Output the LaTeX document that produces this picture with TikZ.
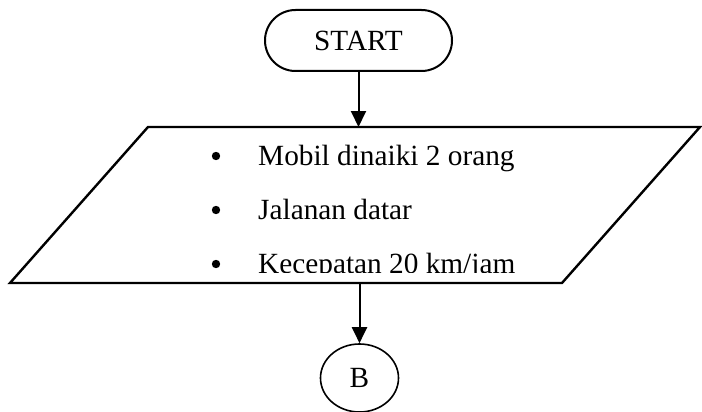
\documentclass[tikz,border=0pt]{standalone}
\usepackage{fontspec}
\setmainfont{Liberation Serif}
\usetikzlibrary{arrows.meta,shapes.misc,shapes.geometric}
\begin{document}
\begin{tikzpicture}[x=1pt,y=-1pt,
  every node/.style={font=\fontsize{29.3}{34}\selectfont, inner sep=0pt},
  terminal/.style={draw, line width=2pt, rounded rectangle, minimum width=187pt, minimum height=61pt},
  connector/.style={draw, line width=1.6pt, ellipse, minimum width=78pt, minimum height=68pt},
  io/.style={draw, line width=2.4pt, line join=miter},
  flow/.style={line width=2pt, -{Triangle[length=16pt,width=15pt]}},
  dot/.style={fill=black}
]
\useasboundingbox (0,0) rectangle (702,412);

% start terminal
\node[terminal] (start) at (358.5,40.5) {START};

% data parallelogram
\coordinate (tl) at (148,127);
\coordinate (tr) at (700,127);
\coordinate (br) at (562,283);
\coordinate (bl) at (10,283);
\draw[io] (tl) -- (tr) -- (br) -- (bl) -- cycle;

% list of conditions
\fill[dot] (216,156) circle (4.2);
\node[anchor=base west] (l1) at (258,165) {Mobil dinaiki 2 orang};
\fill[dot] (216,210) circle (4.2);
\node[anchor=base west] (l2) at (258,219) {Jalanan datar};
\fill[dot] (216,264) circle (4.2);
\begin{scope}
  \clip (150,230) rectangle (600,272.5);
  \node[anchor=base west] (l3) at (258,273) {Kecepatan 20 km/jam};
\end{scope}

% off-page connector
\node[connector] (b) at (359.5,378) {B};

% flow lines
\coordinate (intop) at (start.south |- tl);
\coordinate (inbot) at (b.north |- bl);
\draw[flow] (start.south) -- (intop);
\draw[flow] (inbot) -- (b.north);
\end{tikzpicture}
\end{document}
